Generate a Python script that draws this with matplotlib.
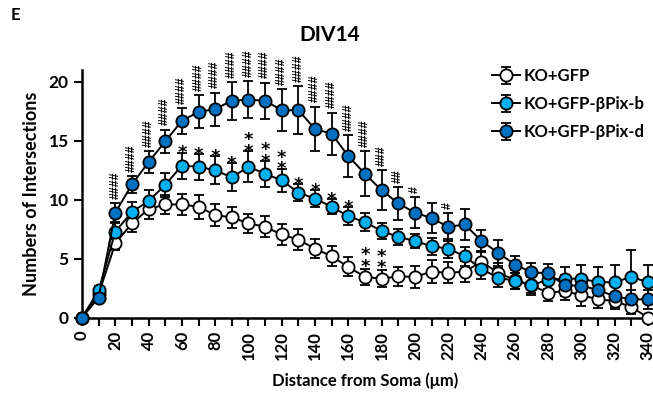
import matplotlib
matplotlib.use("Agg")
import matplotlib.pyplot as plt

plt.rcParams['font.family'] = ['Lato', 'DejaVu Sans']
plt.rcParams['font.weight'] = 'bold'

# Sholl analysis, DIV14
distance = list(range(0, 350, 10))

ko_gfp = [0, 2.0, 6.3, 8.0, 9.2, 9.6, 9.6, 9.4, 8.7, 8.5, 8.0, 7.7, 7.05, 6.6,
          5.85, 5.2, 4.3, 3.45, 3.3, 3.5, 3.45, 3.9, 3.8, 3.9, 4.75, 3.8, 3.2,
          2.75, 2.1, 2.25, 1.9, 1.55, 1.4, 0.9, 0.0]
ko_gfp_err = [0, 0.3, 0.6, 0.7, 0.8, 0.8, 0.9, 1.0, 0.9, 0.9, 0.8, 0.9, 0.9, 0.9,
              0.8, 0.85, 0.8, 0.7, 0.7, 0.8, 0.9, 1.0, 0.9, 0.9, 0.9, 0.8, 0.8,
              0.8, 0.7, 0.8, 0.9, 0.7, 0.7, 0.6, 0.0]

pix_b = [0, 2.3, 7.3, 8.95, 9.9, 11.25, 12.9, 12.8, 12.5, 11.9, 12.8, 12.2, 11.65,
         10.6, 10.1, 9.4, 8.6, 8.1, 7.35, 6.85, 6.5, 6.05, 5.85, 5.2, 4.1, 3.4,
         3.1, 2.75, 3.2, 3.3, 3.3, 3.0, 3.0, 3.45, 3.0]
pix_b_err = [0, 0.4, 0.7, 0.9, 0.9, 1.0, 1.1, 1.1, 1.2, 1.2, 1.3, 1.1, 1.0, 0.7,
             0.7, 0.65, 0.75, 0.75, 0.7, 0.65, 0.6, 0.7, 0.8, 0.8, 0.8, 0.8, 0.7,
             0.7, 0.8, 1.0, 1.2, 1.3, 1.5, 2.3, 1.5]

pix_d = [0, 1.7, 8.9, 11.3, 13.2, 14.95, 16.7, 17.45, 17.7, 18.4, 18.5, 18.4,
         17.6, 17.6, 16.0, 15.6, 13.7, 12.2, 10.8, 9.7, 8.9, 8.45, 7.7, 7.9, 6.5,
         5.5, 4.5, 3.85, 3.75, 2.75, 2.7, 2.35, 1.8, 1.55, 1.55]
pix_d_err = [0, 0.3, 0.8, 0.7, 0.9, 1.0, 1.1, 1.4, 1.4, 1.6, 1.55, 1.55, 1.8, 2.05,
             1.9, 1.8, 1.8, 1.9, 1.7, 1.4, 1.3, 1.3, 1.2, 1.3, 0.9, 1.1, 0.7, 0.8,
             0.8, 0.9, 0.8, 0.8, 0.9, 0.8, 0.8]

# significance marks: distance -> number of symbols
hash_marks = {20: 4, 30: 4, 40: 4, 50: 4, 60: 4, 70: 4, 80: 4, 90: 4, 100: 4,
              110: 4, 120: 4, 130: 4, 140: 4, 150: 4, 160: 4, 170: 4, 180: 3,
              190: 2, 200: 1, 220: 1}
star_marks_b = {60: 1, 70: 1, 80: 1, 90: 1, 100: 2, 110: 2, 120: 2, 130: 1,
                140: 1, 150: 1, 160: 1}
star_marks_gfp = {170: 2, 180: 2}

labels = ["KO+GFP", "KO+GFP-βPix-b", "KO+GFP-βPix-d"]
face_colors = ["white", "#00B0F0", "#0070C0"]

fig = plt.figure(figsize=(6.53, 3.94), dpi=100)
ax = fig.add_axes([0.1256, 0.194, 0.8666, 0.628])

series = [(ko_gfp, ko_gfp_err), (pix_b, pix_b_err), (pix_d, pix_d_err)]
for (vals, errs), lab, fc in zip(series, labels, face_colors):
    ax.errorbar(distance, vals, yerr=errs, color="black", lw=1.4,
                marker="o", markersize=8.8, markerfacecolor=fc,
                markeredgecolor="black", markeredgewidth=1.3,
                ecolor="black", elinewidth=1.3, capsize=3.5, capthick=1.3,
                label=lab, clip_on=False, zorder=3)


def hash_stacks(marks, vals, errs):
    for x, n in marks.items():
        i = distance.index(x)
        ax.annotate("#" * n, xy=(x, vals[i] + errs[i]), xytext=(0, 3),
                    textcoords="offset points", ha="center", va="bottom",
                    rotation=90, fontsize=8.8, fontweight="bold",
                    family="Liberation Sans", annotation_clip=False)


def star_stacks(marks, vals, errs, gap):
    for x, n in marks.items():
        i = distance.index(x)
        ax.annotate("\n".join(["*"] * n), xy=(x, vals[i] + errs[i]),
                    xytext=(0, gap), textcoords="offset points",
                    ha="center", va="bottom", fontsize=13, fontweight="bold",
                    family="DejaVu Sans", linespacing=0.55,
                    annotation_clip=False)


hash_stacks(hash_marks, pix_d, pix_d_err)
star_stacks(star_marks_b, pix_b, pix_b_err, -7)
star_stacks(star_marks_gfp, ko_gfp, ko_gfp_err, -5)

ax.set_xlim(0, 340)
ax.set_ylim(0, 21)
ax.set_xticks(range(0, 341, 20))
ax.set_xticks(range(0, 341, 10), minor=True)
ax.set_yticks([0, 5, 10, 15, 20])
ax.tick_params(axis="x", which="both", direction="out", length=6, width=1.5,
               labelrotation=90, labelsize=12)
ax.tick_params(axis="y", direction="out", length=6, width=1.5, labelsize=12.5)
for lbl in ax.get_xticklabels() + ax.get_yticklabels():
    lbl.set_fontweight("bold")
for side in ["top", "right"]:
    ax.spines[side].set_visible(False)
for side in ["left", "bottom"]:
    ax.spines[side].set_linewidth(1.8)

ax.set_xlabel("Distance from Soma (μm)", fontsize=12, fontweight="bold", labelpad=9)
ax.set_ylabel("Numbers of Intersections", fontsize=13, fontweight="bold", labelpad=6)

fig.text(0.505, 0.91, "DIV14", ha="center", va="center", fontsize=15, fontweight="bold")
fig.text(0.016, 0.963, "E", ha="left", va="center", fontsize=12, fontweight="bold")

leg = ax.legend(loc="upper left", bbox_to_anchor=(0.712, 1.035), frameon=False,
                fontsize=12, handlelength=1.7, handletextpad=0.25,
                labelspacing=0.72, borderaxespad=0)
for t in leg.get_texts():
    t.set_fontweight("bold")

fig.savefig("out.png", dpi=100)
